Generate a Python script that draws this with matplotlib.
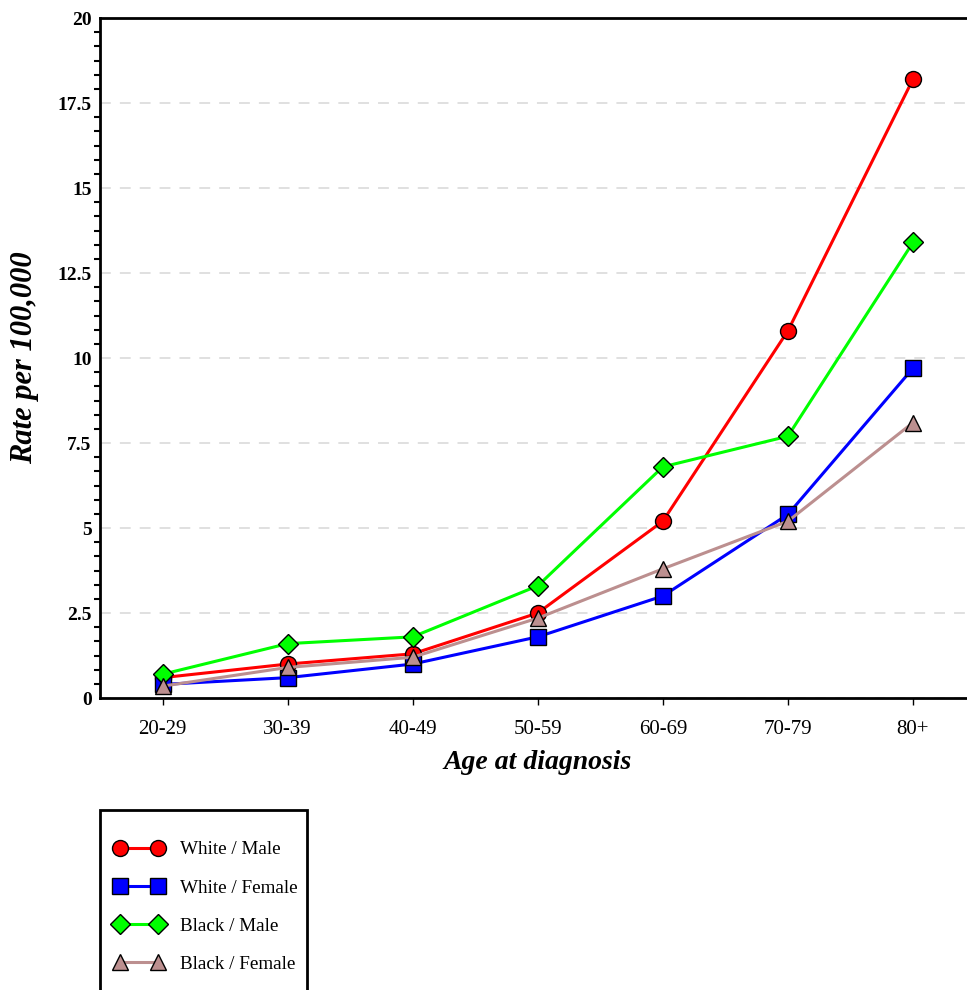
import matplotlib.pyplot as plt
from matplotlib.patches import Rectangle
from matplotlib.ticker import AutoMinorLocator

plt.rcParams['font.family'] = ['Liberation Serif', 'DejaVu Serif']

age_groups = ["20-29", "30-39", "40-49", "50-59", "60-69", "70-79", "80+"]

white_male = [0.6, 1.0, 1.3, 2.5, 5.2, 10.8, 18.2]
white_female = [0.4, 0.6, 1.0, 1.8, 3.0, 5.4, 9.7]
black_male = [0.7, 1.6, 1.8, 3.3, 6.8, 7.7, 13.4]
black_female = [0.35, 0.9, 1.2, 2.35, 3.8, 5.2, 8.1]

y_ticks = [0, 2.5, 5, 7.5, 10, 12.5, 15, 17.5, 20]
y_tick_labels = ["0", "2.5", "5", "7.5", "10", "12.5", "15", "17.5", "20"]

series = [
    ("White / Male", white_male, "#ff0000", "o", 11.5),
    ("White / Female", white_female, "#0000ff", "s", 11),
    ("Black / Male", black_male, "#00ff00", "D", 10),
    ("Black / Female", black_female, "#bc8f8f", "^", 12),
]

fig = plt.figure(figsize=(9.67, 9.9), dpi=100)
ax = fig.add_axes([0.1034, 0.2949, 0.9054, 0.6869])

x = range(len(age_groups))
for label, vals, color, marker, ms in series:
    ax.plot(x, vals, color=color, linewidth=2.2, marker=marker, markersize=ms,
            markerfacecolor=color, markeredgecolor="black", markeredgewidth=1.0,
            label=label)

ax.set_xlim(-0.5, 6.5)
ax.set_ylim(0, 20)
ax.set_xticks(list(x))
ax.set_xticklabels(age_groups, fontsize=15)
ax.set_yticks(y_ticks)
ax.set_yticklabels(y_tick_labels, fontsize=14, fontweight="bold")
ax.yaxis.set_minor_locator(AutoMinorLocator(6))
ax.tick_params(axis="y", which="major", length=0, pad=6)
ax.tick_params(axis="y", which="minor", length=4, width=1.5)
ax.tick_params(axis="x", length=5, width=1, pad=11)

ax.grid(axis="y", linestyle=(0, (6, 5)), color="#dddddd", linewidth=1.3)
ax.set_axisbelow(True)
for side in ["left", "bottom", "top"]:
    ax.spines[side].set_linewidth(2)
ax.spines["right"].set_visible(False)

ax.set_xlabel("Age at diagnosis", fontsize=20, fontweight="bold",
              fontstyle="italic", labelpad=8)
ax.set_ylabel("Rate per 100,000", fontsize=22, fontweight="bold",
              fontstyle="italic", labelpad=13)

# legend box running off the bottom edge, as in the original
fig.patches.append(Rectangle((100 / 967, -0.02), 207 / 967, 0.02 + 180 / 990,
                             transform=fig.transFigure, facecolor="white",
                             edgecolor="black", linewidth=2, zorder=0))
leg = fig.legend(loc="upper left", bbox_to_anchor=(114 / 967, 1 - 841 / 990),
                 numpoints=2, fontsize=13.8, frameon=False,
                 borderpad=0, labelspacing=1.08, handlelength=2.6,
                 handletextpad=0.85, borderaxespad=0)

fig.savefig("out.png", dpi=100)
